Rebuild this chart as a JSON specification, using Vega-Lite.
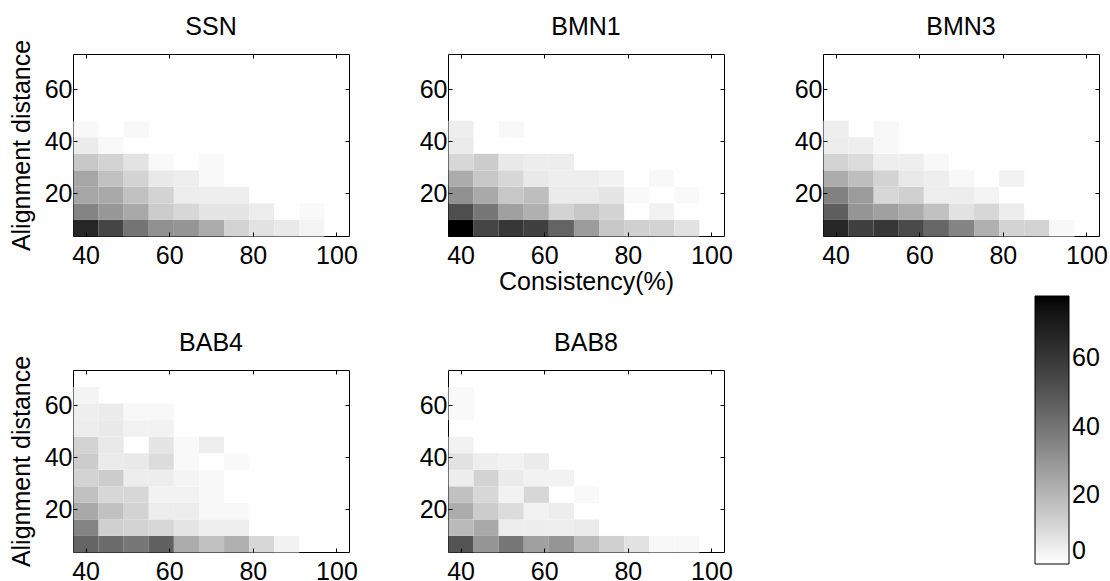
{
  "$schema": "https://vega.github.io/schema/vega-lite/v6.json",
  "padding": {"left": 8, "top": 14, "right": 5, "bottom": 2},
  "background": "white",
  "config": {
    "font": "Liberation Sans",
    "view": {"stroke": "black", "strokeWidth": 1},
    "axis": {"labelFontSize": 25, "labelColor": "black", "titleFontSize": 25, "titleFontWeight": "normal", "titleColor": "black", "tickColor": "black", "domain": false, "grid": false, "labelFlush": false, "labelOverlap": false, "tickSize": -4},
    "title": {"fontSize": 25, "fontWeight": "normal", "color": "black", "offset": -1},
    "legend": {"labelFontSize": 25, "labelColor": "black"}
  },
  "datasets": {
    "cells": [
      {"p":"SSN","x":40,"y":6.7,"v":66},{"p":"SSN","x":46,"y":6.7,"v":55},{"p":"SSN","x":52,"y":6.7,"v":40},{"p":"SSN","x":58,"y":6.7,"v":31},{"p":"SSN","x":64,"y":6.7,"v":30},{"p":"SSN","x":70,"y":6.7,"v":23},{"p":"SSN","x":76,"y":6.7,"v":12},{"p":"SSN","x":82,"y":6.7,"v":8},{"p":"SSN","x":88,"y":6.7,"v":6},{"p":"SSN","x":94,"y":6.7,"v":3},
      {"p":"SSN","x":40,"y":13.0,"v":35},{"p":"SSN","x":46,"y":13.0,"v":29},{"p":"SSN","x":52,"y":13.0,"v":24},{"p":"SSN","x":58,"y":13.0,"v":14},{"p":"SSN","x":64,"y":13.0,"v":11},{"p":"SSN","x":70,"y":13.0,"v":7},{"p":"SSN","x":76,"y":13.0,"v":7},{"p":"SSN","x":82,"y":13.0,"v":5},{"p":"SSN","x":94,"y":13.0,"v":1.5},
      {"p":"SSN","x":40,"y":19.4,"v":25},{"p":"SSN","x":46,"y":19.4,"v":24},{"p":"SSN","x":52,"y":19.4,"v":17},{"p":"SSN","x":58,"y":19.4,"v":12},{"p":"SSN","x":64,"y":19.4,"v":5},{"p":"SSN","x":70,"y":19.4,"v":4.5},{"p":"SSN","x":76,"y":19.4,"v":4.5},
      {"p":"SSN","x":40,"y":25.8,"v":25},{"p":"SSN","x":46,"y":25.8,"v":17},{"p":"SSN","x":52,"y":25.8,"v":12},{"p":"SSN","x":58,"y":25.8,"v":6},{"p":"SSN","x":64,"y":25.8,"v":4.5},{"p":"SSN","x":70,"y":25.8,"v":1.5},
      {"p":"SSN","x":40,"y":32.1,"v":15.5},{"p":"SSN","x":46,"y":32.1,"v":12},{"p":"SSN","x":52,"y":32.1,"v":7.5},{"p":"SSN","x":58,"y":32.1,"v":1.5},{"p":"SSN","x":70,"y":32.1,"v":1.5},
      {"p":"SSN","x":40,"y":38.5,"v":5.5},{"p":"SSN","x":46,"y":38.5,"v":1.5},
      {"p":"SSN","x":40,"y":44.9,"v":2},{"p":"SSN","x":52,"y":44.9,"v":2},

      {"p":"BMN1","x":40,"y":6.7,"v":78},{"p":"BMN1","x":46,"y":6.7,"v":55},{"p":"BMN1","x":52,"y":6.7,"v":60},{"p":"BMN1","x":58,"y":6.7,"v":57},{"p":"BMN1","x":64,"y":6.7,"v":45},{"p":"BMN1","x":70,"y":6.7,"v":28},{"p":"BMN1","x":76,"y":6.7,"v":15.5},{"p":"BMN1","x":82,"y":6.7,"v":13},{"p":"BMN1","x":88,"y":6.7,"v":12},{"p":"BMN1","x":94,"y":6.7,"v":8},
      {"p":"BMN1","x":40,"y":13.0,"v":52},{"p":"BMN1","x":46,"y":13.0,"v":39},{"p":"BMN1","x":52,"y":13.0,"v":26.5},{"p":"BMN1","x":58,"y":13.0,"v":22},{"p":"BMN1","x":64,"y":13.0,"v":12},{"p":"BMN1","x":70,"y":13.0,"v":15.5},{"p":"BMN1","x":76,"y":13.0,"v":12},{"p":"BMN1","x":88,"y":13.0,"v":3.5},
      {"p":"BMN1","x":40,"y":19.4,"v":31.5},{"p":"BMN1","x":46,"y":19.4,"v":24},{"p":"BMN1","x":52,"y":19.4,"v":15.5},{"p":"BMN1","x":58,"y":19.4,"v":18},{"p":"BMN1","x":64,"y":19.4,"v":5.5},{"p":"BMN1","x":70,"y":19.4,"v":5.5},{"p":"BMN1","x":76,"y":19.4,"v":7},{"p":"BMN1","x":82,"y":19.4,"v":1.5},{"p":"BMN1","x":94,"y":19.4,"v":1.5},
      {"p":"BMN1","x":40,"y":25.8,"v":23},{"p":"BMN1","x":46,"y":25.8,"v":15.5},{"p":"BMN1","x":52,"y":25.8,"v":11},{"p":"BMN1","x":58,"y":25.8,"v":6},{"p":"BMN1","x":64,"y":25.8,"v":4.5},{"p":"BMN1","x":70,"y":25.8,"v":4.5},{"p":"BMN1","x":76,"y":25.8,"v":3.5},{"p":"BMN1","x":88,"y":25.8,"v":2},
      {"p":"BMN1","x":40,"y":32.1,"v":11},{"p":"BMN1","x":46,"y":32.1,"v":14},{"p":"BMN1","x":52,"y":32.1,"v":6},{"p":"BMN1","x":58,"y":32.1,"v":5},{"p":"BMN1","x":64,"y":32.1,"v":5},
      {"p":"BMN1","x":40,"y":38.5,"v":5.5},
      {"p":"BMN1","x":40,"y":44.9,"v":4.5},{"p":"BMN1","x":52,"y":44.9,"v":2},

      {"p":"BMN3","x":40,"y":6.7,"v":66},{"p":"BMN3","x":46,"y":6.7,"v":57},{"p":"BMN3","x":52,"y":6.7,"v":60},{"p":"BMN3","x":58,"y":6.7,"v":53.5},{"p":"BMN3","x":64,"y":6.7,"v":44},{"p":"BMN3","x":70,"y":6.7,"v":35},{"p":"BMN3","x":76,"y":6.7,"v":22},{"p":"BMN3","x":82,"y":6.7,"v":12},{"p":"BMN3","x":88,"y":6.7,"v":12},{"p":"BMN3","x":94,"y":6.7,"v":2},
      {"p":"BMN3","x":40,"y":13.0,"v":47},{"p":"BMN3","x":46,"y":13.0,"v":30},{"p":"BMN3","x":52,"y":13.0,"v":26.5},{"p":"BMN3","x":58,"y":13.0,"v":23},{"p":"BMN3","x":64,"y":13.0,"v":17},{"p":"BMN3","x":70,"y":13.0,"v":8},{"p":"BMN3","x":76,"y":13.0,"v":11},{"p":"BMN3","x":82,"y":13.0,"v":5},
      {"p":"BMN3","x":40,"y":19.4,"v":36},{"p":"BMN3","x":46,"y":19.4,"v":28},{"p":"BMN3","x":52,"y":19.4,"v":11},{"p":"BMN3","x":58,"y":19.4,"v":13},{"p":"BMN3","x":64,"y":19.4,"v":4.5},{"p":"BMN3","x":70,"y":19.4,"v":5},{"p":"BMN3","x":76,"y":19.4,"v":3},
      {"p":"BMN3","x":40,"y":25.8,"v":23},{"p":"BMN3","x":46,"y":25.8,"v":18},{"p":"BMN3","x":52,"y":25.8,"v":12},{"p":"BMN3","x":58,"y":25.8,"v":6},{"p":"BMN3","x":64,"y":25.8,"v":4.5},{"p":"BMN3","x":70,"y":25.8,"v":2},{"p":"BMN3","x":82,"y":25.8,"v":3.5},
      {"p":"BMN3","x":40,"y":32.1,"v":12},{"p":"BMN3","x":46,"y":32.1,"v":9.5},{"p":"BMN3","x":52,"y":32.1,"v":4.5},{"p":"BMN3","x":58,"y":32.1,"v":4.5},{"p":"BMN3","x":64,"y":32.1,"v":2},
      {"p":"BMN3","x":40,"y":38.5,"v":5},{"p":"BMN3","x":46,"y":38.5,"v":4.5},{"p":"BMN3","x":52,"y":38.5,"v":2},
      {"p":"BMN3","x":40,"y":44.9,"v":4.5},{"p":"BMN3","x":52,"y":44.9,"v":2},

      {"p":"BAB4","x":40,"y":6.7,"v":45},{"p":"BAB4","x":46,"y":6.7,"v":42.5},{"p":"BAB4","x":52,"y":6.7,"v":39},{"p":"BAB4","x":58,"y":6.7,"v":46},{"p":"BAB4","x":64,"y":6.7,"v":23},{"p":"BAB4","x":70,"y":6.7,"v":17},{"p":"BAB4","x":76,"y":6.7,"v":22},{"p":"BAB4","x":82,"y":6.7,"v":11},{"p":"BAB4","x":88,"y":6.7,"v":3.5},
      {"p":"BAB4","x":40,"y":13.0,"v":35},{"p":"BAB4","x":46,"y":13.0,"v":13},{"p":"BAB4","x":52,"y":13.0,"v":12},{"p":"BAB4","x":58,"y":13.0,"v":11},{"p":"BAB4","x":64,"y":13.0,"v":7},{"p":"BAB4","x":70,"y":13.0,"v":4.5},{"p":"BAB4","x":76,"y":13.0,"v":4.5},
      {"p":"BAB4","x":40,"y":19.4,"v":24},{"p":"BAB4","x":46,"y":19.4,"v":17},{"p":"BAB4","x":52,"y":19.4,"v":12},{"p":"BAB4","x":58,"y":19.4,"v":5},{"p":"BAB4","x":64,"y":19.4,"v":5},{"p":"BAB4","x":70,"y":19.4,"v":2},{"p":"BAB4","x":76,"y":19.4,"v":2},
      {"p":"BAB4","x":40,"y":25.8,"v":17},{"p":"BAB4","x":46,"y":25.8,"v":11},{"p":"BAB4","x":52,"y":25.8,"v":11},{"p":"BAB4","x":58,"y":25.8,"v":3.5},{"p":"BAB4","x":64,"y":25.8,"v":3.5},{"p":"BAB4","x":70,"y":25.8,"v":2},
      {"p":"BAB4","x":40,"y":32.1,"v":12},{"p":"BAB4","x":46,"y":32.1,"v":14},{"p":"BAB4","x":52,"y":32.1,"v":5},{"p":"BAB4","x":58,"y":32.1,"v":5},{"p":"BAB4","x":64,"y":32.1,"v":3},{"p":"BAB4","x":70,"y":32.1,"v":2},
      {"p":"BAB4","x":40,"y":38.5,"v":14},{"p":"BAB4","x":46,"y":38.5,"v":5.5},{"p":"BAB4","x":52,"y":38.5,"v":6},{"p":"BAB4","x":58,"y":38.5,"v":9.5},{"p":"BAB4","x":64,"y":38.5,"v":1.5},{"p":"BAB4","x":76,"y":38.5,"v":1.5},
      {"p":"BAB4","x":40,"y":44.9,"v":12},{"p":"BAB4","x":46,"y":44.9,"v":6},{"p":"BAB4","x":58,"y":44.9,"v":7},{"p":"BAB4","x":64,"y":44.9,"v":1.5},{"p":"BAB4","x":70,"y":44.9,"v":4.5},
      {"p":"BAB4","x":40,"y":51.2,"v":5},{"p":"BAB4","x":46,"y":51.2,"v":6},{"p":"BAB4","x":52,"y":51.2,"v":3.5},{"p":"BAB4","x":58,"y":51.2,"v":3.5},
      {"p":"BAB4","x":40,"y":57.6,"v":4.5},{"p":"BAB4","x":46,"y":57.6,"v":5.5},{"p":"BAB4","x":52,"y":57.6,"v":2},{"p":"BAB4","x":58,"y":57.6,"v":2},
      {"p":"BAB4","x":40,"y":64.0,"v":3},

      {"p":"BAB8","x":40,"y":6.7,"v":50},{"p":"BAB8","x":46,"y":6.7,"v":30},{"p":"BAB8","x":52,"y":6.7,"v":39},{"p":"BAB8","x":58,"y":6.7,"v":26.5},{"p":"BAB8","x":64,"y":6.7,"v":30},{"p":"BAB8","x":70,"y":6.7,"v":19},{"p":"BAB8","x":76,"y":6.7,"v":13},{"p":"BAB8","x":82,"y":6.7,"v":8},{"p":"BAB8","x":88,"y":6.7,"v":2},{"p":"BAB8","x":94,"y":6.7,"v":2},
      {"p":"BAB8","x":40,"y":13.0,"v":19},{"p":"BAB8","x":46,"y":13.0,"v":24},{"p":"BAB8","x":52,"y":13.0,"v":5},{"p":"BAB8","x":58,"y":13.0,"v":5},{"p":"BAB8","x":64,"y":13.0,"v":4.5},{"p":"BAB8","x":70,"y":13.0,"v":5.5},
      {"p":"BAB8","x":40,"y":19.4,"v":23},{"p":"BAB8","x":46,"y":19.4,"v":14},{"p":"BAB8","x":52,"y":19.4,"v":9.5},{"p":"BAB8","x":58,"y":19.4,"v":3.5},{"p":"BAB8","x":64,"y":19.4,"v":5},
      {"p":"BAB8","x":40,"y":25.8,"v":17},{"p":"BAB8","x":46,"y":25.8,"v":11},{"p":"BAB8","x":52,"y":25.8,"v":3.5},{"p":"BAB8","x":58,"y":25.8,"v":11},{"p":"BAB8","x":70,"y":25.8,"v":1.5},
      {"p":"BAB8","x":40,"y":32.1,"v":5},{"p":"BAB8","x":46,"y":32.1,"v":12},{"p":"BAB8","x":52,"y":32.1,"v":5.5},{"p":"BAB8","x":58,"y":32.1,"v":3.5},{"p":"BAB8","x":64,"y":32.1,"v":3.5},
      {"p":"BAB8","x":40,"y":38.5,"v":8},{"p":"BAB8","x":46,"y":38.5,"v":4.5},{"p":"BAB8","x":52,"y":38.5,"v":3.5},{"p":"BAB8","x":58,"y":38.5,"v":5.5},
      {"p":"BAB8","x":40,"y":44.9,"v":3.5},
      {"p":"BAB8","x":40,"y":57.6,"v":1.5},
      {"p":"BAB8","x":40,"y":64.0,"v":1.5}
    ]
  },
  "data": {"name": "cells"},
  "columns": 3,
  "bounds": "flush",
  "spacing": {"row": 134, "column": 99},
  "concat": [
    {
      "title": "SSN", "width": 276, "height": 182,
      "transform": [{"filter": "datum.p === 'SSN'"}],
      "layer": [
        {"mark": "rect", "encoding": {
          "x": {"field": "x", "type": "quantitative", "bin": {"extent": [37, 103], "step": 6, "nice": false}, "scale": {"domain": [37, 103], "nice": false, "zero": false}, "axis": {"orient": "bottom", "values": [40, 60, 80, 100], "title": null, "labelPadding": 11}},
          "y": {"field": "y", "type": "quantitative", "bin": {"extent": [3.5, 73.5], "step": 6.363636363636363, "nice": false}, "scale": {"domain": [3.5, 73.5], "nice": false, "zero": false}, "axis": {"orient": "left", "values": [20, 40, 60], "title": "Alignment distance", "labelPadding": 5, "titlePadding": 10}},
          "color": {"field": "v", "type": "quantitative", "scale": {"domain": [0, 78], "range": ["#ffffff", "#000000"]}, "legend": {"orient": "none", "legendX": 962, "legendY": 242, "title": null, "direction": "vertical", "gradientLength": 268, "gradientThickness": 34, "values": [0, 20, 40, 60], "labelOffset": 3, "gradientStrokeColor": "black", "gradientStrokeWidth": 1, "labelOverlap": false, "padding": 0}}
        }},
        {"mark": {"type": "rect", "opacity": 0}, "encoding": {
          "x": {"field": "x", "type": "quantitative", "bin": {"extent": [37, 103], "step": 6, "nice": false}, "scale": {"domain": [37, 103], "nice": false, "zero": false}, "axis": {"orient": "top", "values": [40, 60, 80, 100], "title": null, "labels": false}},
          "y": {"field": "y", "type": "quantitative", "bin": {"extent": [3.5, 73.5], "step": 6.363636363636363, "nice": false}, "scale": {"domain": [3.5, 73.5], "nice": false, "zero": false}, "axis": {"orient": "right", "values": [20, 40, 60], "title": null, "labels": false}}
        }}
      ],
      "resolve": {"axis": {"x": "independent", "y": "independent"}}
    },
    {
      "title": "BMN1", "width": 276, "height": 182,
      "transform": [{"filter": "datum.p === 'BMN1'"}],
      "layer": [
        {"mark": "rect", "encoding": {
          "x": {"field": "x", "type": "quantitative", "bin": {"extent": [37, 103], "step": 6, "nice": false}, "scale": {"domain": [37, 103], "nice": false, "zero": false}, "axis": {"orient": "bottom", "values": [40, 60, 80, 100], "title": "Consistency(%)", "labelPadding": 11, "titlePadding": 1}},
          "y": {"field": "y", "type": "quantitative", "bin": {"extent": [3.5, 73.5], "step": 6.363636363636363, "nice": false}, "scale": {"domain": [3.5, 73.5], "nice": false, "zero": false}, "axis": {"orient": "left", "values": [20, 40, 60], "title": "Alignment distance", "titleOpacity": 0, "labelPadding": 5, "titlePadding": 10}},
          "color": {"field": "v", "type": "quantitative", "scale": {"domain": [0, 78], "range": ["#ffffff", "#000000"]}, "legend": {"orient": "none", "legendX": 962, "legendY": 242, "title": null, "direction": "vertical", "gradientLength": 268, "gradientThickness": 34, "values": [0, 20, 40, 60], "labelOffset": 3, "gradientStrokeColor": "black", "gradientStrokeWidth": 1, "labelOverlap": false, "padding": 0}}
        }},
        {"mark": {"type": "rect", "opacity": 0}, "encoding": {
          "x": {"field": "x", "type": "quantitative", "bin": {"extent": [37, 103], "step": 6, "nice": false}, "scale": {"domain": [37, 103], "nice": false, "zero": false}, "axis": {"orient": "top", "values": [40, 60, 80, 100], "title": null, "labels": false}},
          "y": {"field": "y", "type": "quantitative", "bin": {"extent": [3.5, 73.5], "step": 6.363636363636363, "nice": false}, "scale": {"domain": [3.5, 73.5], "nice": false, "zero": false}, "axis": {"orient": "right", "values": [20, 40, 60], "title": null, "labels": false}}
        }}
      ],
      "resolve": {"axis": {"x": "independent", "y": "independent"}}
    },
    {
      "title": "BMN3", "width": 276, "height": 182,
      "transform": [{"filter": "datum.p === 'BMN3'"}],
      "layer": [
        {"mark": "rect", "encoding": {
          "x": {"field": "x", "type": "quantitative", "bin": {"extent": [37, 103], "step": 6, "nice": false}, "scale": {"domain": [37, 103], "nice": false, "zero": false}, "axis": {"orient": "bottom", "values": [40, 60, 80, 100], "title": null, "labelPadding": 11}},
          "y": {"field": "y", "type": "quantitative", "bin": {"extent": [3.5, 73.5], "step": 6.363636363636363, "nice": false}, "scale": {"domain": [3.5, 73.5], "nice": false, "zero": false}, "axis": {"orient": "left", "values": [20, 40, 60], "title": "Alignment distance", "titleOpacity": 0, "labelPadding": 5, "titlePadding": 10}},
          "color": {"field": "v", "type": "quantitative", "scale": {"domain": [0, 78], "range": ["#ffffff", "#000000"]}, "legend": {"orient": "none", "legendX": 962, "legendY": 242, "title": null, "direction": "vertical", "gradientLength": 268, "gradientThickness": 34, "values": [0, 20, 40, 60], "labelOffset": 3, "gradientStrokeColor": "black", "gradientStrokeWidth": 1, "labelOverlap": false, "padding": 0}}
        }},
        {"mark": {"type": "rect", "opacity": 0}, "encoding": {
          "x": {"field": "x", "type": "quantitative", "bin": {"extent": [37, 103], "step": 6, "nice": false}, "scale": {"domain": [37, 103], "nice": false, "zero": false}, "axis": {"orient": "top", "values": [40, 60, 80, 100], "title": null, "labels": false}},
          "y": {"field": "y", "type": "quantitative", "bin": {"extent": [3.5, 73.5], "step": 6.363636363636363, "nice": false}, "scale": {"domain": [3.5, 73.5], "nice": false, "zero": false}, "axis": {"orient": "right", "values": [20, 40, 60], "title": null, "labels": false}}
        }}
      ],
      "resolve": {"axis": {"x": "independent", "y": "independent"}}
    },
    {
      "title": "BAB4", "width": 276, "height": 182,
      "transform": [{"filter": "datum.p === 'BAB4'"}],
      "layer": [
        {"mark": "rect", "encoding": {
          "x": {"field": "x", "type": "quantitative", "bin": {"extent": [37, 103], "step": 6, "nice": false}, "scale": {"domain": [37, 103], "nice": false, "zero": false}, "axis": {"orient": "bottom", "values": [40, 60, 80, 100], "title": null, "labelPadding": 11}},
          "y": {"field": "y", "type": "quantitative", "bin": {"extent": [3.5, 73.5], "step": 6.363636363636363, "nice": false}, "scale": {"domain": [3.5, 73.5], "nice": false, "zero": false}, "axis": {"orient": "left", "values": [20, 40, 60], "title": "Alignment distance", "labelPadding": 5, "titlePadding": 10}},
          "color": {"field": "v", "type": "quantitative", "scale": {"domain": [0, 78], "range": ["#ffffff", "#000000"]}, "legend": {"orient": "none", "legendX": 962, "legendY": 242, "title": null, "direction": "vertical", "gradientLength": 268, "gradientThickness": 34, "values": [0, 20, 40, 60], "labelOffset": 3, "gradientStrokeColor": "black", "gradientStrokeWidth": 1, "labelOverlap": false, "padding": 0}}
        }},
        {"mark": {"type": "rect", "opacity": 0}, "encoding": {
          "x": {"field": "x", "type": "quantitative", "bin": {"extent": [37, 103], "step": 6, "nice": false}, "scale": {"domain": [37, 103], "nice": false, "zero": false}, "axis": {"orient": "top", "values": [40, 60, 80, 100], "title": null, "labels": false}},
          "y": {"field": "y", "type": "quantitative", "bin": {"extent": [3.5, 73.5], "step": 6.363636363636363, "nice": false}, "scale": {"domain": [3.5, 73.5], "nice": false, "zero": false}, "axis": {"orient": "right", "values": [20, 40, 60], "title": null, "labels": false}}
        }}
      ],
      "resolve": {"axis": {"x": "independent", "y": "independent"}}
    },
    {
      "title": "BAB8", "width": 276, "height": 182,
      "transform": [{"filter": "datum.p === 'BAB8'"}],
      "layer": [
        {"mark": "rect", "encoding": {
          "x": {"field": "x", "type": "quantitative", "bin": {"extent": [37, 103], "step": 6, "nice": false}, "scale": {"domain": [37, 103], "nice": false, "zero": false}, "axis": {"orient": "bottom", "values": [40, 60, 80, 100], "title": null, "labelPadding": 11}},
          "y": {"field": "y", "type": "quantitative", "bin": {"extent": [3.5, 73.5], "step": 6.363636363636363, "nice": false}, "scale": {"domain": [3.5, 73.5], "nice": false, "zero": false}, "axis": {"orient": "left", "values": [20, 40, 60], "title": "Alignment distance", "titleOpacity": 0, "labelPadding": 5, "titlePadding": 10}},
          "color": {"field": "v", "type": "quantitative", "scale": {"domain": [0, 78], "range": ["#ffffff", "#000000"]}, "legend": {"orient": "none", "legendX": 962, "legendY": 242, "title": null, "direction": "vertical", "gradientLength": 268, "gradientThickness": 34, "values": [0, 20, 40, 60], "labelOffset": 3, "gradientStrokeColor": "black", "gradientStrokeWidth": 1, "labelOverlap": false, "padding": 0}}
        }},
        {"mark": {"type": "rect", "opacity": 0}, "encoding": {
          "x": {"field": "x", "type": "quantitative", "bin": {"extent": [37, 103], "step": 6, "nice": false}, "scale": {"domain": [37, 103], "nice": false, "zero": false}, "axis": {"orient": "top", "values": [40, 60, 80, 100], "title": null, "labels": false}},
          "y": {"field": "y", "type": "quantitative", "bin": {"extent": [3.5, 73.5], "step": 6.363636363636363, "nice": false}, "scale": {"domain": [3.5, 73.5], "nice": false, "zero": false}, "axis": {"orient": "right", "values": [20, 40, 60], "title": null, "labels": false}}
        }}
      ],
      "resolve": {"axis": {"x": "independent", "y": "independent"}}
    }
  ]
}
